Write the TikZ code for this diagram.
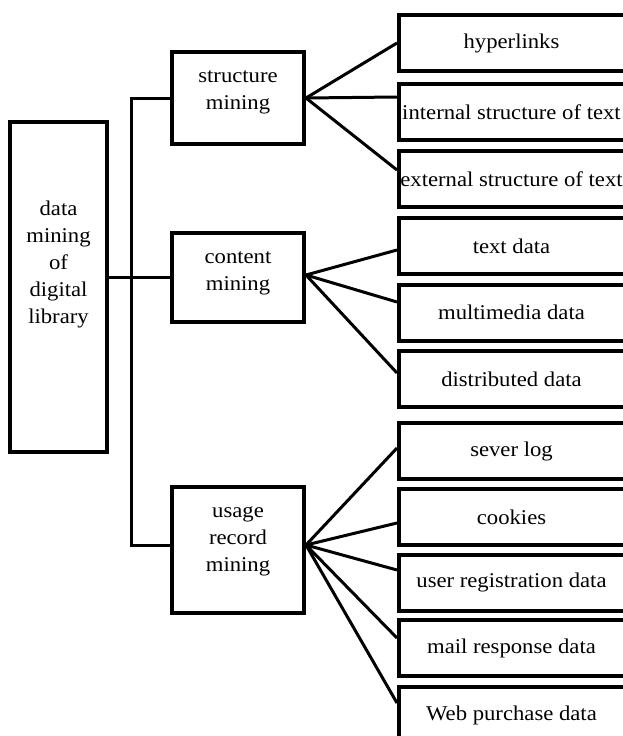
\documentclass[tikz,border=0pt]{standalone}
\usepackage{fontspec}
\setmainfont[FakeStretch=1.08]{Liberation Serif}
\usetikzlibrary{calc}
\begin{document}
\begin{tikzpicture}[x=1pt,y=-1pt,
  every node/.style={font=\fontsize{21}{27}\selectfont},
  boxa/.style={draw,line width=4pt,rectangle,inner sep=0pt,minimum width=132,align=center},
  boxr/.style={draw,line width=4pt,rectangle,inner sep=0pt,minimum width=232,minimum height=56,align=center},
  txt/.style={align=center,inner sep=0pt},
  conn/.style={line width=3pt}]
\useasboundingbox (0,0) rectangle (622,736);
% main box
\node[draw,line width=3.3pt,minimum width=97,minimum height=330,inner sep=0pt] (main) at (58.5,287) {};
\node[txt] (maint) at (58.5,264) {data\\mining\\of\\digital\\library};
% middle boxes
\node[boxa,minimum height=92] (str) at (238,98) {};
\node[txt] (strt) at (238,92) {structure\\mining};
\node[boxa,minimum height=89] (con) at (238,277.5) {};
\node[txt] (cont) at (238,273) {content\\mining};
\node[boxa,minimum height=126] (use) at (238,550) {};
\node[txt] (uset) at (238,541) {usage\\record\\mining};
% right boxes
\node[boxr] (hyp) at (515,43) {hyperlinks\hspace*{7pt}};
\node[boxr] (int) at (515,112) {internal structure of text\hspace*{7pt}};
\node[boxr] (ext) at (515,179) {external structure of text\hspace*{7pt}};
\node[boxr] (txd) at (515,246) {text data\hspace*{7pt}};
\node[boxr] (mmd) at (515,312.5) {multimedia data\hspace*{7pt}};
\node[boxr] (dis) at (515,379) {distributed data\hspace*{7pt}};
\node[boxr] (sev) at (515,451) {sever log\hspace*{7pt}};
\node[boxr] (coo) at (515,517) {cookies\hspace*{7pt}};
\node[boxr] (usr) at (515,582.5) {user registration data\hspace*{7pt}};
\node[boxr] (mai) at (515,648) {mail response data\hspace*{7pt}};
\node[boxr] (web) at (515,715) {Web purchase data\hspace*{7pt}};
% trunk
\draw[conn] (str.west) -- ++(-39,0) |- ($(use.west)+(0,-5)$);
\draw[conn] (con.west) -- (con.west -| main.east);
% structure fan
\draw[conn] (str.east) -- (hyp.west);
\draw[conn] (str.east) -- ($(int.west)+(0,-15)$);
\draw[conn] (str.east) -- ($(ext.west)+(0,-9)$);
% content fan
\coordinate (co) at ($(con.east)+(0,-2.5)$);
\draw[conn] (co) -- ($(txd.west)+(0,4)$);
\draw[conn] (co) -- ($(mmd.west)+(0,-10.5)$);
\draw[conn] (co) -- ($(dis.west)+(0,-6)$);
% usage fan
\coordinate (uo) at ($(use.east)+(0,-5)$);
\draw[conn] (uo) -- ($(sev.west)+(0,-3)$);
\draw[conn] (uo) -- ($(coo.west)+(0,6)$);
\draw[conn] (uo) -- ($(usr.west)+(0,-12.5)$);
\draw[conn] (uo) -- ($(mai.west)+(0,-10)$);
\draw[conn] (uo) -- ($(web.west)+(0,-12)$);
\end{tikzpicture}
\end{document}
